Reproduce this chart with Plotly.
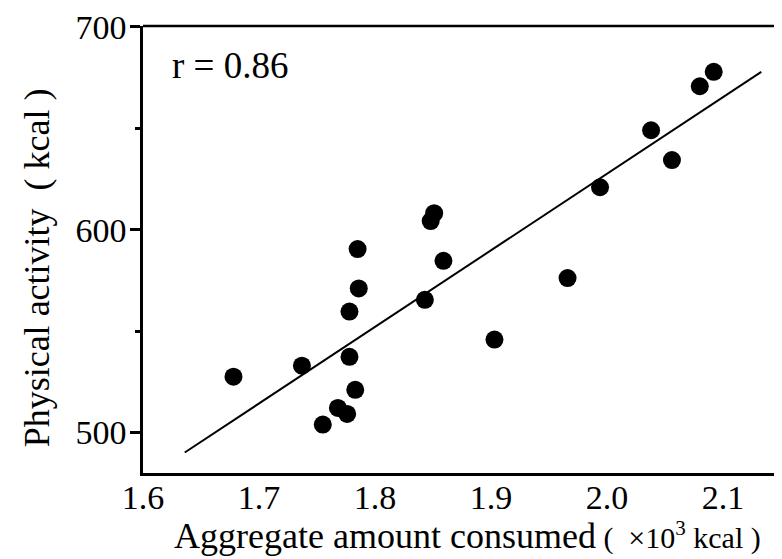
import plotly.graph_objects as go

# Data
consumed = [1.678, 1.737, 1.755, 1.768, 1.776, 1.778, 1.778, 1.783, 1.785, 1.786,
            1.843, 1.848, 1.851, 1.859, 1.903, 1.966, 1.994, 2.038, 2.056, 2.080, 2.092]
activity = [527.5, 532.9, 503.9, 512.1, 509.1, 537.3, 559.6, 521.0, 590.4, 571.0,
            565.4, 604.2, 608.1, 584.6, 545.8, 576.1, 620.9, 649.0, 634.3, 670.7, 677.8]

fit_x = [1.636, 2.133]
fit_y = [490.1, 677.8]

x_ticks = [1.6, 1.7, 1.8, 1.9, 2.0, 2.1]
x_tick_labels = ["1.6", "1.7", "1.8", "1.9", "2.0", "2.1"]
y_ticks = [500, 600, 700]
y_tick_labels = ["500", "600", "700"]
y_minor = [550, 650]

FONT = "Liberation Serif"

fig = go.Figure()
fig.add_trace(go.Scatter(x=fit_x, y=fit_y, mode="lines",
                         line=dict(color="black", width=2), showlegend=False))
fig.add_trace(go.Scatter(x=consumed, y=activity, mode="markers",
                         marker=dict(color="black", size=18), showlegend=False))

fig.update_layout(
    width=774, height=551,
    margin=dict(l=135, r=1, t=16, b=86),
    paper_bgcolor="white", plot_bgcolor="white",
    font=dict(family=FONT, color="black"),
    xaxis=dict(range=[1.6, 2.15], tickvals=x_ticks, ticktext=x_tick_labels,
               showgrid=False, zeroline=False, showline=True, linecolor="black",
               linewidth=2.5, ticks="", tickfont=dict(size=34, family=FONT),
               ticklabelstandoff=-8, ticklabeloverflow="allow"),
    yaxis=dict(range=[480, 700.4], tickvals=y_ticks, ticktext=y_tick_labels,
               showgrid=False, zeroline=False, showline=True, linecolor="black",
               linewidth=2.5, ticks="outside", ticklen=10, tickwidth=2.5,
               tickcolor="black", tickfont=dict(size=34, family=FONT),
               ticklabelstandoff=-3, ticklabeloverflow="allow",
               minor=dict(tickvals=y_minor, ticks="outside", ticklen=5,
                          tickwidth=2.5, tickcolor="black")),
)

# top frame line and faint right edge
fig.add_shape(type="line", xref="paper", yref="paper", x0=0, x1=1, y0=1, y1=1,
              line=dict(color="black", width=2.5))
fig.add_shape(type="line", xref="paper", yref="paper", x0=1, x1=1, y0=0, y1=1,
              line=dict(color="#cccccc", width=1))

fig.add_annotation(text="r = 0.86", xref="paper", yref="paper", x=0.042, y=0.911,
                   xanchor="left", yanchor="middle", showarrow=False,
                   font=dict(size=37, family=FONT))
fig.add_annotation(text="Physical activity&nbsp;&nbsp;(&nbsp;kcal&nbsp;)", xref="paper", yref="paper",
                   x=-0.166, y=0.458, textangle=-90, xanchor="center", yanchor="middle",
                   showarrow=False, font=dict(size=36, family=FONT))
fig.add_annotation(text="Aggregate amount consumed<span style='font-size:30px'>&nbsp;(&nbsp;&nbsp;×10<sup>3</sup> kcal&nbsp;)</span>",
                   xref="paper", yref="paper", x=0.045, y=-0.140,
                   xanchor="left", yanchor="middle", showarrow=False,
                   font=dict(size=36, family=FONT))

fig.write_html("out.html")
